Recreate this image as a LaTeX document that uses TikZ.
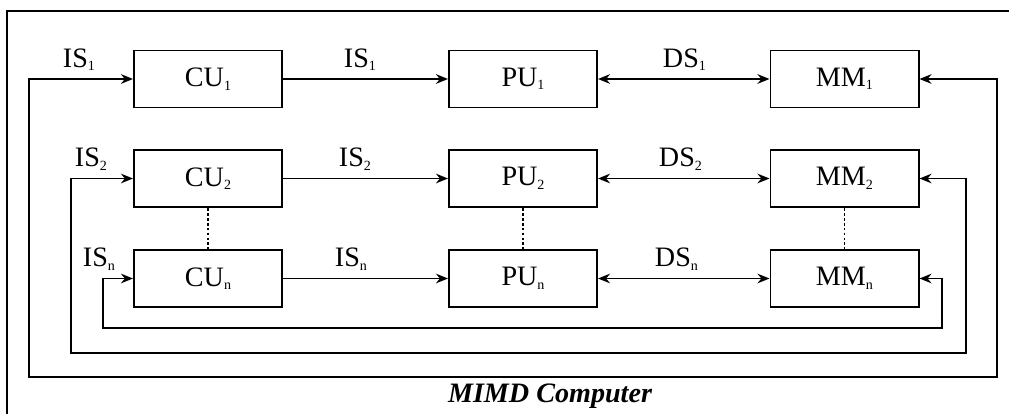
\documentclass[tikz,border=0pt]{standalone}
\usepackage{fontspec}
\setmainfont{Liberation Serif}
\usetikzlibrary{arrows.meta}
\newcommand\ix[1]{\raisebox{-2.5pt}{\fontsize{10}{10}\selectfont #1}}

\begin{document}
\begin{tikzpicture}[x=0.025cm,y=-0.025cm,line width=1.4pt,
  unit/.style={draw,minimum width=3.7cm,minimum height=1.425cm,inner sep=0pt,font=\fontsize{20}{24}\selectfont},
  lbl/.style={anchor=base west,inner sep=0pt,font=\fontsize{20}{24}\selectfont},
  arr/.style={-{Stealth[length=3mm,width=2.4mm]}},
  darr/.style={{Stealth[length=3mm,width=2.4mm]}-{Stealth[length=3mm,width=2.4mm]}},
  dots/.style={line width=1.1pt,dash pattern=on 2pt off 1.5pt}]
\useasboundingbox (0,0) rectangle (1009,414);
\draw (7,414) -- (7,11) -- (1009,11);
\foreach \s/\y/\la/\lb/\lc/\e/\b/\r in {1/79/62/343/662/29/377/997, 2/178.5/74/338/658/71/353/966, n/278.5/82/334/654/103/328/942} {
  \node[unit] (cu\s) at (208,\y) {CU\ix{\s}};
  \node[unit] (pu\s) at (523,\y) {PU\ix{\s}};
  \node[unit] (mm\s) at (844.5,\y) {MM\ix{\s}};
  \draw[arr] (cu\s) -- (pu\s);
  \draw[darr] (pu\s) -- (mm\s);
  % feedback loop
  \coordinate (lp\s) at (\e,\b);
  \coordinate (rp\s) at (\r,\b);
  \draw[darr] (cu\s.west) -| (lp\s) -- (rp\s) |- (mm\s.east);
  \node[lbl] (isa\s) at (\la,\y-12) {IS\ix{\s}};
  \node[lbl] (isb\s) at (\lb,\y-12) {IS\ix{\s}};
  \node[lbl] (ds\s) at (\lc,\y-12) {DS\ix{\s}};
}
\foreach \col in {cu,pu,mm}
  \draw[dots] (\col2.south) -- (\col n.north);
\node[font=\fontsize{20}{24}\selectfont\bfseries\itshape] (title) at (550,396) {MIMD Computer};
\end{tikzpicture}
\end{document}
